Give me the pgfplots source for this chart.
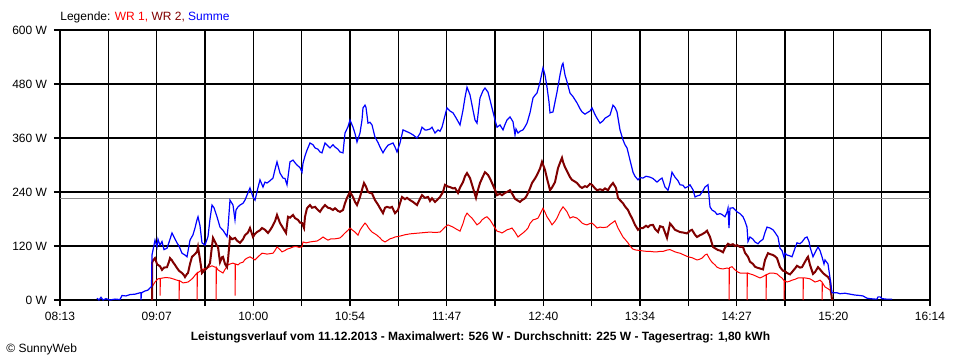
\documentclass[border=0pt]{standalone}
\usepackage{fontspec}
\setmainfont{Liberation Sans}
\usepackage{pgfplots}
\pgfplotsset{compat=1.18}
\definecolor{wrone}{HTML}{FF0000}
\definecolor{wrtwo}{HTML}{800000}
\definecolor{summe}{HTML}{0000FF}
\definecolor{avg}{HTML}{8C8C8C}
\begin{document}
\begin{tikzpicture}
\useasboundingbox (0,0) rectangle (480pt,180pt);
\begin{axis}[
  at={(30pt,30pt)}, anchor=south west,
  scale only axis, width=435pt, height=135pt,
  xmin=60, xmax=930, ymin=0, ymax=600,
  xtick={60,108.333,156.667,205,253.333,301.667,350,398.333,446.667,495,543.333,591.667,640,688.333,736.667,785,833.333,881.667,930},
  xticklabels={08:13,{},09:07,{},10:00,{},10:54,{},11:47,{},12:40,{},13:34,{},14:27,{},15:20,{},16:14},
  ytick={0,120,240,360,480,600},
  yticklabels={0 W,120 W,240 W,360 W,480 W,600 W},
  grid=major, major grid style={black, line width=0.55pt},
  axis line style={black, line width=0.55pt},
  tick align=outside, major tick length=3pt, tick style={black, line width=0.55pt},
  xtick pos=bottom, ytick pos=left,
  font=\fontsize{6}{7}\selectfont,
  xticklabel style={anchor=base, yshift=-7.4pt},
  xlabel={\bfseries Leistungsverlauf vom 11.12.2013 - Maximalwert: 526 W - Durchschnitt: 225 W - Tagesertrag: 1,80 kWh},
  xlabel style={at={(axis description cs:0.4833,0)}, anchor=base, yshift=-20.4pt, inner sep=0pt},
]
\addplot[avg, line width=0.5pt] coordinates {(60,225)(930,225)};
\addplot[wrone, line width=0.5pt] coordinates {
(152,0)(152,29)(155,40)(158,47)(160,48)(160,10)(160.5,48)(163,49)(166,50)(170,49)(173,47)(177,44)(179,43)(179,0)(179.5,43)(181,41)(183,38)(186,39)(188,40)(191,45)(193,49)(195,55)(197,60)(197,0)(197.5,60)(200,64)(202,67)(205,70)(207,71)(210,74)(212,76)(215,73)(216,73)(216,0)(216.5,72)(218,67)(220,64)(223,60)(225,68)(228,78)(230,80)(233,82)(235,80)(235,10)(235.5,80)(238,78)(240,82)(243,84)(245,90)(247,93)(250,96)(253,92)(255,89)(258,96)(260,100)(262,104)(265,103)(267,102)(270,103)(273,104)(275,110)(277,118)(280,112)(282,107)(285,110)(287,113)(290,115)(293,118)(296,119)(299,117)(302,118)(303,129)(306,127)(310,129)(313,130)(317,131)(320,135)(323,140)(325,137)(328,133)(331,136)(335,136)(338,137)(340,138)(342,142)(345,149)(348,155)(350,160)(352,156)(355,151)(358,144)(360,155)(362,162)(365,171)(367,166)(368,162)(370,156)(372,151)(375,147)(377,144)(380,138)(382,133)(385,129)(388,133)(390,136)(393,138)(395,140)(400,142)(405,145)(410,147)(415,148)(420,149)(425,150)(430,151)(435,150)(440,151)(442,155)(445,162)(448,167)(450,165)(453,162)(456,158)(460,153)(463,170)(465,185)(467,193)(470,186)(472,182)(475,173)(477,167)(480,172)(482,178)(485,183)(487,185)(490,178)(492,171)(495,160)(497,153)(500,151)(502,149)(505,153)(507,156)(510,158)(512,160)(515,151)(518,140)(520,144)(523,149)(526,155)(528,160)(530,170)(533,178)(536,180)(538,182)(541,195)(543,204)(545,195)(547,185)(550,175)(552,167)(555,175)(557,182)(560,197)(563,207)(565,202)(567,196)(570,182)(573,185)(577,182)(580,176)(582,171)(585,168)(587,167)(590,170)(592,171)(595,165)(597,160)(600,162)(603,161)(607,162)(610,168)(612,171)(615,176)(618,160)(620,152)(623,140)(625,135)(628,127)(630,120)(633,113)(636,111)(640,110)(643,109)(647,108)(650,108)(654,107)(657,107)(660,108)(663,108)(667,111)(670,112)(672,110)(675,107)(678,105)(680,104)(684,100)(687,97)(690,95)(692,94)(695,91)(697,89)(699,90)(702,93)(705,100)(707,102)(710,90)(712,84)(715,78)(717,73)(720,70)(723,69)(727,71)(729,70)(729,0)(729.5,72)(732,74)(735,67)(738,62)(740,60)(743,60)(747,60)(747,0)(747.5,60)(750,58)(753,56)(757,52)(760,49)(763,52)(766,56)(766,0)(766.5,56)(770,60)(773,60)(777,58)(780,52)(782,49)(784,43)(784,0)(784.5,43)(787,40)(790,42)(792,44)(795,46)(798,49)(801,49)(803,49)(803,0)(803.5,49)(805,49)(808,48)(810,47)(813,43)(815,40)(818,42)(820,44)(822,40)(822,0)(822.5,38)(825,29)(828,25)(830,22)(832,4)(833,0)
};
\addplot[wrtwo, line width=1pt] coordinates {
(152,0)(152,82)(153,88)(155,93)(157,80)(158,78)(160,75)(162,67)(164,72)(167,73)(169,85)(170,93)(172,88)(173,84)(175,78)(177,71)(179,65)(182,60)(184,55)(185,51)(187,58)(188,60)(190,80)(192,96)(194,100)(197,107)(198,118)(200,90)(202,60)(204,65)(207,71)(209,78)(210,82)(212,120)(213,138)(215,129)(217,120)(218,118)(220,84)(222,95)(223,96)(225,80)(227,73)(228,89)(230,140)(232,135)(235,138)(237,132)(240,127)(243,135)(245,144)(248,150)(250,160)(253,140)(255,147)(257,151)(260,155)(262,160)(265,156)(268,149)(270,155)(272,162)(275,175)(277,189)(280,171)(283,160)(286,149)(288,185)(290,183)(293,189)(295,182)(298,178)(300,172)(302,171)(304,160)(305,185)(307,204)(310,211)(312,205)(315,207)(318,200)(320,196)(322,203)(325,211)(328,205)(330,204)(333,200)(335,204)(338,198)(340,196)(343,200)(345,215)(347,227)(350,240)(353,229)(355,218)(357,211)(360,229)(362,245)(364,260)(366,252)(368,240)(370,238)(372,237)(375,222)(378,212)(380,204)(383,193)(385,205)(387,207)(390,205)(392,207)(395,193)(398,200)(400,215)(402,229)(405,224)(407,227)(410,222)(413,218)(417,211)(420,225)(422,233)(425,227)(428,229)(430,220)(432,226)(435,218)(437,222)(440,229)(443,240)(445,256)(448,252)(450,251)(453,248)(455,249)(458,238)(460,250)(463,262)(465,275)(467,282)(470,271)(473,249)(476,227)(478,245)(480,260)(483,275)(485,284)(488,278)(490,270)(492,260)(495,245)(497,233)(500,236)(502,233)(505,238)(507,240)(510,244)(513,233)(515,225)(517,222)(520,218)(522,222)(525,226)(527,233)(530,248)(532,260)(535,270)(537,278)(540,292)(542,307)(545,289)(547,270)(550,244)(552,250)(555,262)(558,293)(560,305)(562,316)(563,307)(565,295)(568,282)(570,273)(572,267)(575,263)(577,260)(580,252)(582,249)(585,253)(587,251)(590,258)(592,256)(595,248)(597,244)(600,246)(603,244)(605,248)(608,244)(610,252)(613,260)(616,249)(618,227)(620,222)(623,215)(625,208)(628,200)(630,190)(632,182)(635,167)(638,156)(640,160)(643,160)(646,165)(648,162)(650,166)(653,167)(655,158)(658,151)(660,164)(663,162)(665,150)(667,138)(670,170)(672,165)(675,156)(678,153)(680,151)(683,150)(687,148)(690,154)(692,156)(695,145)(697,140)(700,144)(702,146)(705,150)(707,154)(710,140)(713,118)(715,115)(718,111)(720,110)(723,106)(725,116)(728,125)(730,122)(733,124)(735,120)(737,122)(740,118)(743,118)(745,105)(748,96)(750,85)(753,80)(755,74)(757,72)(760,70)(763,68)(765,89)(768,104)(770,102)(773,100)(775,97)(777,93)(780,73)(783,65)(785,64)(787,60)(790,57)(792,62)(795,70)(797,76)(800,72)(802,73)(805,85)(807,93)(808,96)(810,78)(813,58)(815,62)(818,73)(820,68)(823,60)(825,56)(828,51)(830,44)(832,0)
};
\addplot[summe, line width=0.6pt] coordinates {
(97,4)(99,0)(101,6)(103,0)(106,3)(110,0)(115,2)(120,1)(122,10)(126,9)(130,12)(135,13)(140,16)(141,16)(141,0)(141.5,16)(145,20)(148,22)(150,27)(151.5,30)(152,100)(153,111)(155,133)(157,118)(158,135)(160,122)(162,130)(164,112)(167,115)(169,128)(172,149)(174,140)(177,127)(179,120)(182,104)(185,100)(187,96)(190,133)(193,145)(195,160)(197,178)(198,185)(200,165)(202,127)(205,122)(208,141)(210,180)(212,211)(214,205)(217,185)(220,162)(223,155)(225,148)(227,141)(228,160)(230,222)(233,211)(235,178)(236,200)(238,207)(240,211)(243,215)(245,222)(247,233)(250,249)(253,229)(255,222)(258,250)(260,267)(263,251)(265,262)(267,260)(270,265)(273,271)(275,290)(277,307)(280,282)(283,271)(285,270)(287,256)(290,307)(293,311)(295,305)(297,300)(300,294)(302,284)(303,304)(305,320)(307,333)(310,349)(313,345)(315,338)(318,335)(320,329)(322,327)(325,349)(328,342)(330,338)(333,345)(335,340)(338,335)(340,329)(343,327)(345,371)(348,385)(350,400)(353,384)(355,370)(357,351)(360,371)(362,400)(363,427)(365,433)(366,428)(368,393)(370,395)(372,389)(375,362)(378,350)(380,340)(383,327)(385,335)(388,344)(390,346)(393,349)(395,340)(397,329)(400,349)(403,378)(407,374)(410,371)(413,367)(417,360)(420,370)(422,384)(425,378)(427,378)(430,380)(432,384)(435,371)(438,378)(440,375)(442,384)(445,410)(447,427)(450,420)(453,416)(456,405)(460,389)(463,422)(465,450)(467,473)(470,456)(473,422)(475,400)(477,393)(480,449)(483,465)(485,471)(488,462)(490,445)(492,427)(495,400)(497,384)(500,389)(503,378)(505,390)(507,400)(510,407)(513,396)(515,367)(516,380)(518,371)(520,375)(523,378)(525,385)(527,393)(530,416)(533,449)(535,455)(537,460)(540,484)(543,516)(545,500)(547,473)(549,440)(550,416)(553,418)(555,440)(557,462)(560,500)(562,522)(563,526)(565,500)(567,485)(570,460)(573,452)(577,438)(580,425)(582,418)(585,413)(587,416)(590,420)(592,427)(595,412)(597,404)(600,393)(603,398)(605,404)(608,408)(610,411)(613,433)(615,428)(617,418)(620,378)(623,356)(625,345)(627,338)(630,311)(633,284)(635,275)(638,267)(640,272)(643,271)(646,275)(650,273)(653,270)(657,262)(660,268)(662,271)(665,251)(668,244)(670,260)(672,284)(675,273)(678,265)(680,256)(683,255)(685,249)(688,252)(690,256)(693,245)(695,229)(698,232)(700,233)(703,243)(705,251)(708,256)(710,207)(712,200)(715,196)(717,190)(720,192)(722,190)(725,185)(727,195)(728,204)(729,160)(730,204)(733,205)(737,196)(740,192)(743,185)(745,175)(747,162)(748,130)(750,140)(753,135)(755,129)(758,125)(760,130)(763,135)(765,150)(767,162)(770,160)(773,156)(775,150)(778,140)(780,115)(782,110)(784,95)(785,104)(787,100)(790,98)(792,96)(795,115)(797,127)(800,125)(802,129)(805,138)(807,140)(809,130)(810,118)(813,96)(815,105)(818,118)(820,110)(822,96)(824,80)(825,89)(828,80)(830,49)(832,16)(837,16)(840,14)(845,15)(850,13)(855,11)(860,10)(863,9)(867,4)(870,3)(875,2)(877,2)(878,7)(880,7)(882,3)(886,2)(892,2)
};
\end{axis}
\node[anchor=base west, inner sep=0pt, font=\fontsize{6}{7}\selectfont] at (30pt,169.6pt) {Legende: \textcolor{wrone}{WR 1,} \textcolor{wrtwo}{WR 2,} \textcolor{summe}{Summe}};
\node[anchor=base west, inner sep=0pt, font=\fontsize{6}{7}\selectfont] at (3pt,3.75pt) {© SunnyWeb};
\end{tikzpicture}
\end{document}
